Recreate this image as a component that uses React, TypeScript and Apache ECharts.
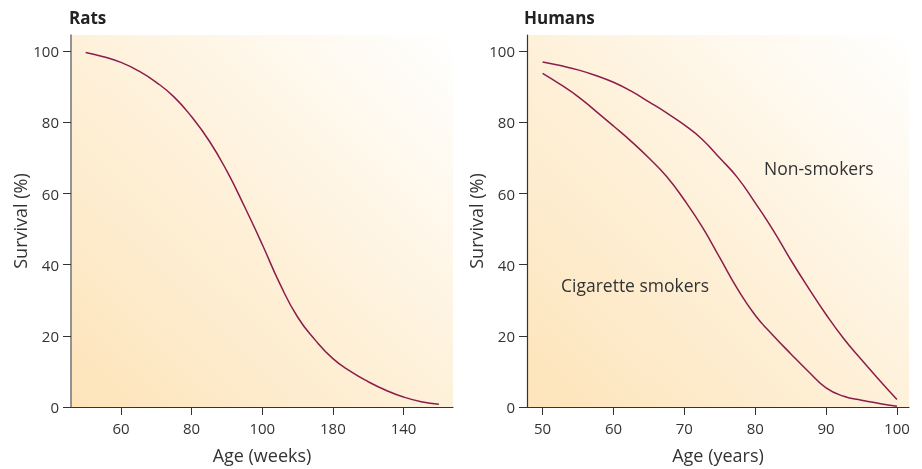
import React, { useEffect, useRef } from "react";
import * as echarts from "echarts";

const ratAge = [50, 55, 60, 65, 70, 75, 80, 85, 90, 95, 100, 105, 110, 115, 120, 125, 130, 135, 140, 145, 150];
const ratSurvival = [99.7, 98.5, 96.9, 94.5, 91.3, 87.2, 81.6, 74.8, 66.3, 56.3, 45.7, 34.6, 25.3, 18.8, 13.6, 10, 7.1, 4.7, 2.8, 1.5, 0.8];
const ratTickValues = [60, 80, 100, 120, 140];
const ratTickLabels = ["60", "80", "100", "180", "140"];

const humanAge = [50, 52.5, 55, 57.5, 60, 62.5, 65, 67.5, 70, 72.5, 75, 77.5, 80, 82.5, 85, 87.5, 90, 92.5, 95, 97.5, 100];
const nonSmokers = [97, 96, 94.8, 93.2, 91.3, 88.8, 85.8, 82.7, 79.3, 75.3, 70, 64.5, 57.4, 49.8, 41.4, 33.5, 26, 19.2, 13.3, 7.6, 2.1];
const smokers = [93.8, 90.7, 87.3, 83.2, 79, 74.7, 70, 64.8, 58.2, 50.7, 42, 33.2, 25.8, 20.2, 15, 10, 5.4, 3, 1.9, 1, 0.2];
const humanTickValues = [50, 60, 70, 80, 90, 100];
const yTickValues = [0, 20, 40, 60, 80, 100];

const FONT = "Open Sans";
const TEXT = "#333333";
const LINE = "#8c1c4b";

const bg = () =>
  new echarts.graphic.LinearGradient(0, 1, 1, 0, [
    { offset: 0, color: "#fde4ba" },
    { offset: 0.5, color: "#fef1da" },
    { offset: 1, color: "#ffffff" },
  ]);

export default function App() {
  const ref = useRef<HTMLDivElement>(null);
  useEffect(() => {
    const chart = echarts.init(ref.current!, null, { renderer: "svg" });
    const yAxisBase = (gridIndex: number) => ({
      type: "value",
      gridIndex,
      min: 0,
      max: 104.6,
      name: "Survival (%)",
      nameLocation: "middle",
      nameGap: 37,
      nameTextStyle: { fontFamily: FONT, fontSize: 18, color: TEXT },
      axisLine: { show: true, lineStyle: { color: gridIndex === 0 ? "#7a7a7a" : "#333", width: gridIndex === 0 ? 1.6 : 1.2 } },
      axisTick: { show: true, length: 8, customValues: yTickValues, lineStyle: { color: "#333" } },
      axisLabel: { customValues: yTickValues, margin: 12, fontFamily: FONT, fontSize: 15, color: TEXT },
      splitLine: { show: false },
    });
    const toPairs = (xs: number[], ys: number[]) => xs.map((x, i) => [x, ys[i]]);
    const lineSeries = (name: string, idx: number, xs: number[], ys: number[]) => ({
      type: "line",
      name,
      xAxisIndex: idx,
      yAxisIndex: idx,
      data: toPairs(xs, ys),
      smooth: 0.5,
      showSymbol: false,
      lineStyle: { color: LINE, width: 1.5 },
    });
    chart.setOption({
      animation: false,
      grid: [
        { left: 71, top: 35, width: 382, height: 372, show: true, backgroundColor: bg(), borderWidth: 0 },
        { left: 527, top: 35, width: 382, height: 372, show: true, backgroundColor: bg(), borderWidth: 0 },
      ],
      xAxis: [
        {
          type: "value",
          gridIndex: 0,
          min: 45.85,
          max: 154,
          name: "Age (weeks)",
          nameLocation: "middle",
          nameGap: 39,
          nameTextStyle: { fontFamily: FONT, fontSize: 18, color: TEXT },
          axisLine: { show: true, lineStyle: { color: "#333", width: 1.2 } },
          axisTick: { show: true, length: 8, customValues: ratTickValues, lineStyle: { color: "#333" } },
          axisLabel: {
            customValues: ratTickValues,
            margin: 13,
            fontFamily: FONT,
            fontSize: 15,
            color: TEXT,
            formatter: (v: number) => ratTickLabels[ratTickValues.indexOf(v)] ?? "",
          },
          splitLine: { show: false },
        },
        {
          type: "value",
          gridIndex: 1,
          min: 47.8,
          max: 101.7,
          name: "Age (years)",
          nameLocation: "middle",
          nameGap: 39,
          nameTextStyle: { fontFamily: FONT, fontSize: 18, color: TEXT },
          axisLine: { show: true, lineStyle: { color: "#333", width: 1.2 } },
          axisTick: { show: true, length: 8, customValues: humanTickValues, lineStyle: { color: "#333" } },
          axisLabel: { customValues: humanTickValues, margin: 13, fontFamily: FONT, fontSize: 15, color: TEXT },
          splitLine: { show: false },
        },
      ],
      yAxis: [yAxisBase(0), yAxisBase(1)],
      series: [
        lineSeries("Rats", 0, ratAge, ratSurvival),
        lineSeries("Non-smokers", 1, humanAge, nonSmokers),
        lineSeries("Cigarette smokers", 1, humanAge, smokers),
      ],
      graphic: [
        { type: "text", left: 69, top: 9, style: { text: "Rats", font: `bold 17px "${FONT}"`, fill: "#222" } },
        { type: "text", left: 524, top: 9, style: { text: "Humans", font: `bold 17px "${FONT}"`, fill: "#222" } },
        { type: "text", left: 764, top: 159, style: { text: "Non-smokers", font: `17.5px "${FONT}"`, fill: TEXT } },
        { type: "text", left: 561, top: 276, style: { text: "Cigarette smokers", font: `17.5px "${FONT}"`, fill: TEXT } },
      ],
    });
    return () => chart.dispose();
  }, []);
  return <div ref={ref} style={{ position: "fixed", left: 0, top: 0, width: 922, height: 469 }} />;
}
